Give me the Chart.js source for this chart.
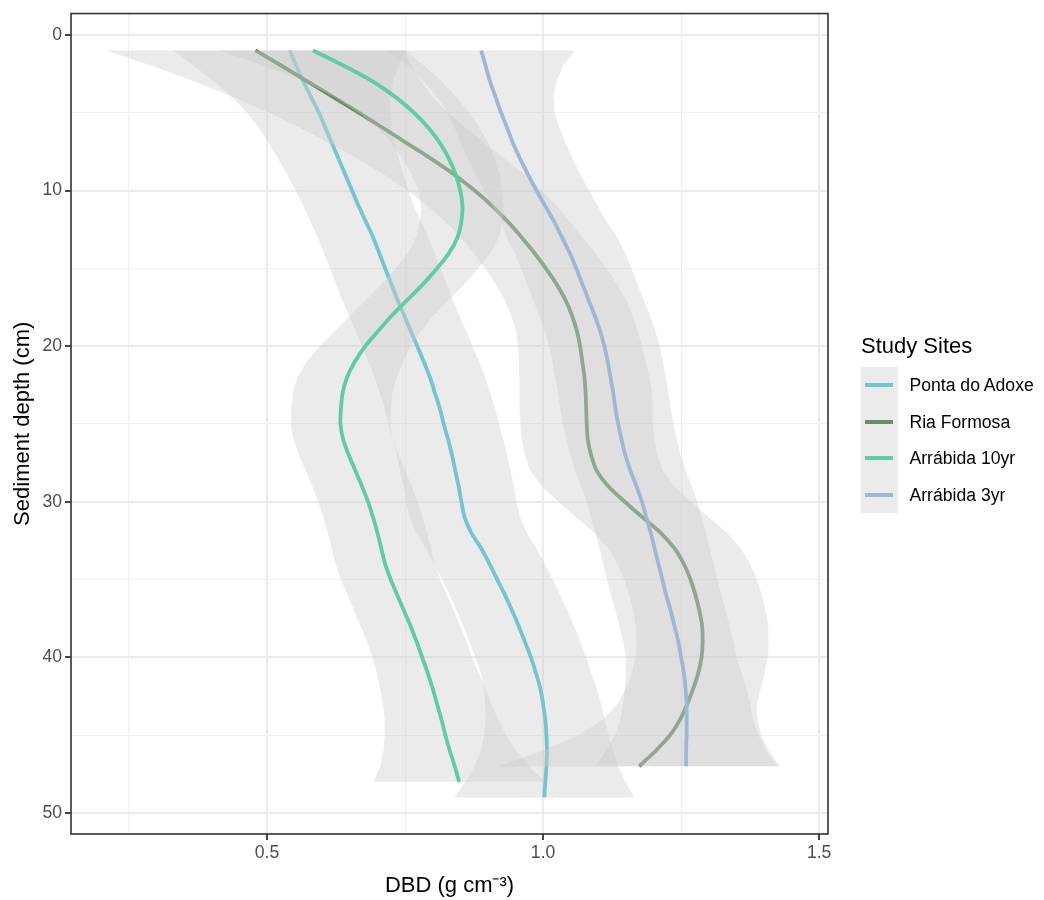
<!DOCTYPE html>
<html>
<head>
<meta charset="utf-8">
<script src="https://cdn.jsdelivr.net/npm/chart.js@4.4.1/dist/chart.umd.min.js"></script>
<style>
  html, body { margin: 0; padding: 0; background: #ffffff; }
  #wrap { position: relative; width: 1044px; height: 900px; overflow: hidden; }
  #c { position: absolute; left: 0; top: 0; }
  #legend { position: absolute; left: 0; top: 0; width: 1044px; height: 900px; pointer-events: none;
            font-family: "Liberation Sans", Arial, Helvetica, sans-serif; color: #000; }
  #legTitle { position: absolute; left: 861px; top: 335px; font-size: 22px; line-height: 22px; white-space: nowrap; }
  #legKeys { position: absolute; left: 861px; top: 367px; width: 37px; background: #ebebeb; }
  .legRow { position: absolute; left: 861px; height: 36.5px; display: flex; align-items: center; white-space: nowrap; }
  .legLine { width: 28px; height: 4px; margin-left: 4px; margin-right: 16.5px; }
  .legLabel { font-size: 17.6px; line-height: 20px; }
</style>
</head>
<body>
<div id="wrap">
  <canvas id="c" width="1044" height="900"></canvas>
  <div id="legend"></div>
</div>
<script>
// ---------------- data ----------------
const seriesNames = ["Ponta do Adoxe", "Ria Formosa", "Arrábida 10yr", "Arrábida 3yr"];
const seriesColors = ["#74c6ce", "#6a8d6a", "#5fcca4", "#9fb7d3"];
const legendTitle = "Study Sites";

const depthCm = [1,2,3,4,5,6,7,8,9,10,11,12,13,14,15,16,17,18,19,20,21,22,23,24,25,
                 26,27,28,29,30,31,32,33,34,35,36,37,38,39,40,41,42,43,44,45,46,47,48,49];

// smoothed DBD (g cm-3) at each depth
const pontaDBD = [0.541,0.553,0.566,0.580,0.594,0.606,0.618,0.630,0.642,0.654,0.666,0.679,0.692,0.703,0.714,
                  0.725,0.736,0.748,0.760,0.772,0.784,0.795,0.804,0.813,0.820,0.828,0.835,0.841,0.847,0.852,
                  0.858,0.870,0.888,0.903,0.917,0.931,0.944,0.956,0.967,0.978,0.987,0.995,1.000,1.004,1.006,
                  1.007,1.006,1.004,1.002];
const riaDBD   = [0.479,0.527,0.574,0.620,0.666,0.711,0.755,0.799,0.840,0.876,0.908,0.936,0.961,0.984,1.005,
                  1.024,1.040,1.052,1.061,1.067,1.071,1.075,1.077,1.078,1.079,1.081,1.087,1.097,1.118,1.148,
                  1.180,1.213,1.238,1.255,1.267,1.276,1.283,1.288,1.289,1.287,1.281,1.272,1.261,1.248,1.230,
                  1.204,1.174];
const arr10DBD = [0.583,0.640,0.692,0.733,0.766,0.793,0.814,0.830,0.842,0.850,0.854,0.852,0.845,0.830,0.808,
                  0.783,0.755,0.727,0.702,0.678,0.659,0.645,0.637,0.634,0.633,0.638,0.648,0.660,0.672,0.683,
                  0.692,0.700,0.707,0.714,0.724,0.736,0.748,0.760,0.771,0.781,0.791,0.800,0.808,0.816,0.823,
                  0.831,0.840,0.848];
const arr3DBD  = [0.888,0.896,0.904,0.914,0.924,0.935,0.946,0.959,0.973,0.988,1.004,1.020,1.034,1.048,1.060,
                  1.071,1.082,1.093,1.103,1.111,1.117,1.122,1.127,1.131,1.136,1.142,1.149,1.158,1.169,1.179,
                  1.187,1.195,1.202,1.209,1.216,1.223,1.231,1.238,1.245,1.250,1.255,1.258,1.260,1.260,1.260,
                  1.259,1.259];

// half width of the confidence band at each depth
const pontaCI = [0.210,0.185,0.162,0.143,0.130,0.120,0.114,0.109,0.105,0.102,0.100,0.100,0.100,0.100,0.100,
                 0.100,0.100,0.100,0.100,0.100,0.100,0.100,0.100,0.100,0.100,0.100,0.100,0.100,0.100,0.100,
                 0.100,0.100,0.100,0.100,0.100,0.100,0.100,0.100,0.100,0.100,0.100,0.102,0.105,0.108,0.113,
                 0.120,0.130,0.145,0.163];
const riaCI   = [0.270,0.235,0.205,0.180,0.162,0.150,0.140,0.133,0.127,0.122,0.117,0.113,0.110,0.110,0.110,
                 0.110,0.110,0.110,0.110,0.112,0.115,0.118,0.120,0.120,0.120,0.120,0.120,0.120,0.120,0.120,
                 0.120,0.120,0.120,0.120,0.120,0.120,0.120,0.120,0.120,0.120,0.120,0.122,0.126,0.140,0.165,
                 0.205,0.255];
const arr10CI = [0.170,0.145,0.125,0.110,0.100,0.092,0.087,0.083,0.080,0.075,0.075,0.075,0.075,0.075,0.075,
                 0.075,0.075,0.075,0.078,0.082,0.087,0.090,0.090,0.090,0.090,0.090,0.090,0.090,0.090,0.090,
                 0.090,0.090,0.090,0.090,0.090,0.090,0.090,0.090,0.090,0.090,0.092,0.095,0.098,0.103,0.110,
                 0.120,0.135,0.155];
const arr3CI  = [0.170,0.140,0.120,0.105,0.097,0.095,0.095,0.095,0.095,0.095,0.095,0.095,0.100,0.100,0.100,
                 0.100,0.100,0.100,0.100,0.100,0.100,0.100,0.100,0.100,0.100,0.100,0.100,0.100,0.100,0.100,
                 0.100,0.100,0.100,0.100,0.100,0.100,0.100,0.100,0.100,0.100,0.105,0.110,0.115,0.120,0.130,
                 0.145,0.165];

// axis ticks
const xMajorTicks = [0.5, 1.0, 1.5];
const xMinorTicks = [0.25, 0.75, 1.25];
const yMajorTicks = [0, 10, 20, 30, 40, 50];
const yMinorTicks = [5, 15, 25, 35, 45];
const xRange = [0.145, 1.516];
const yRange = [-1.37, 51.35];

// ---------------- build datasets ----------------
const seriesValues = [pontaDBD, riaDBD, arr10DBD, arr3DBD];
const seriesCI = [pontaCI, riaCI, arr10CI, arr3CI];
const FONT = "'Liberation Sans', Arial, Helvetica, sans-serif";
const ribbonColor = "rgba(204,204,204,0.4)";

function linePoints(vals) {
  return vals.map((v, i) => ({ x: v, y: depthCm[i] }));
}
function ribbonPoints(vals, ci) {
  const lower = vals.map((v, i) => ({ x: v - ci[i], y: depthCm[i] }));
  const upper = vals.map((v, i) => ({ x: v + ci[i], y: depthCm[i] })).reverse();
  return lower.concat(upper);
}

// ggplot draws group by group (band, then line); later groups cover earlier ones.
const datasets = [];
seriesNames.forEach((name, k) => {
  datasets.push({
    label: name + " band",
    data: ribbonPoints(seriesValues[k], seriesCI[k]),
    backgroundColor: ribbonColor,
    borderColor: "rgba(0,0,0,0)",
    borderWidth: 0,
    fill: "shape",
    pointRadius: 0,
    tension: 0,
    order: 8 - 2 * k
  });
  datasets.push({
    label: name,
    data: linePoints(seriesValues[k]),
    borderColor: seriesColors[k],
    backgroundColor: seriesColors[k],
    borderWidth: 3.8,
    borderCapStyle: "butt",
    fill: false,
    pointRadius: 0,
    tension: 0.3,
    order: 7 - 2 * k
  });
});

const isIn = (arr, v) => arr.some(a => Math.abs(a - v) < 1e-9);

const panelBorder = {
  id: "panelBorder",
  afterDraw(chart) {
    const { ctx, chartArea: a } = chart;
    ctx.save();
    ctx.strokeStyle = "#333333";
    ctx.lineWidth = 1.6;
    ctx.strokeRect(a.left, a.top, a.right - a.left, a.bottom - a.top);
    ctx.restore();
  }
};

new Chart(document.getElementById("c"), {
  type: "line",
  data: { datasets },
  plugins: [panelBorder],
  options: {
    responsive: false,
    devicePixelRatio: 1,
    animation: false,
    layout: { padding: { left: 0, right: 216, top: 13, bottom: 0 } },
    plugins: { legend: { display: false }, tooltip: { enabled: false } },
    scales: {
      x: {
        type: "linear",
        min: xRange[0],
        max: xRange[1],
        afterBuildTicks: s => { s.ticks = xMinorTicks.concat(xMajorTicks).sort((a, b) => a - b).map(v => ({ value: v })); },
        afterFit: s => { s.height = 66; },
        border: { display: false },
        grid: {
          color: c => isIn(xMajorTicks, c.tick.value) ? "#ebebeb" : "#f0f0f0",
          lineWidth: c => isIn(xMajorTicks, c.tick.value) ? 2 : 1.1,
          tickColor: c => isIn(xMajorTicks, c.tick.value) ? "#333333" : "rgba(0,0,0,0)",
          tickWidth: c => isIn(xMajorTicks, c.tick.value) ? 1.8 : 0,
          tickLength: 6
        },
        ticks: {
          autoSkip: false, maxRotation: 0, padding: 3,
          color: "#4d4d4d",
          font: { family: FONT, size: 17.6 },
          callback: v => isIn(xMajorTicks, v) ? Number(v).toFixed(1) : ""
        },
        title: {
          display: true,
          text: "DBD (g cm⁻³)",
          color: "#000000",
          font: { family: FONT, size: 22, lineHeight: 1.2 },
          padding: { top: 0, bottom: 1 }
        }
      },
      y: {
        type: "linear",
        reverse: true,
        min: yRange[0],
        max: yRange[1],
        afterBuildTicks: s => { s.ticks = yMajorTicks.concat(yMinorTicks).sort((a, b) => a - b).map(v => ({ value: v })); },
        afterFit: s => { s.width = 71; },
        border: { display: false },
        grid: {
          color: c => isIn(yMajorTicks, c.tick.value) ? "#ebebeb" : "#f0f0f0",
          lineWidth: c => isIn(yMajorTicks, c.tick.value) ? 2 : 1.1,
          tickColor: c => isIn(yMajorTicks, c.tick.value) ? "#333333" : "rgba(0,0,0,0)",
          tickWidth: c => isIn(yMajorTicks, c.tick.value) ? 1.8 : 0,
          tickLength: 6
        },
        ticks: {
          autoSkip: false, padding: 3,
          color: "#4d4d4d",
          font: { family: FONT, size: 17.6 },
          callback: v => isIn(yMajorTicks, v) ? String(v) : ""
        },
        title: {
          display: true,
          text: "Sediment depth (cm)",
          color: "#000000",
          font: { family: FONT, size: 22, lineHeight: 1.2 },
          padding: { top: 10, bottom: 0 }
        }
      }
    }
  }
});

// ---------------- legend (HTML text) ----------------
const leg = document.getElementById("legend");
const t = document.createElement("div");
t.id = "legTitle";
t.textContent = legendTitle;
leg.appendChild(t);
const keys = document.createElement("div");
keys.id = "legKeys";
keys.style.height = (36.5 * seriesNames.length) + "px";
leg.appendChild(keys);
seriesNames.forEach((name, k) => {
  const row = document.createElement("div");
  row.className = "legRow";
  row.style.top = (367 + 36.5 * k) + "px";
  const ln = document.createElement("div");
  ln.className = "legLine";
  ln.style.background = seriesColors[k];
  const lb = document.createElement("span");
  lb.className = "legLabel";
  lb.textContent = name;
  row.appendChild(ln);
  row.appendChild(lb);
  leg.appendChild(row);
});
</script>
</body>
</html>
